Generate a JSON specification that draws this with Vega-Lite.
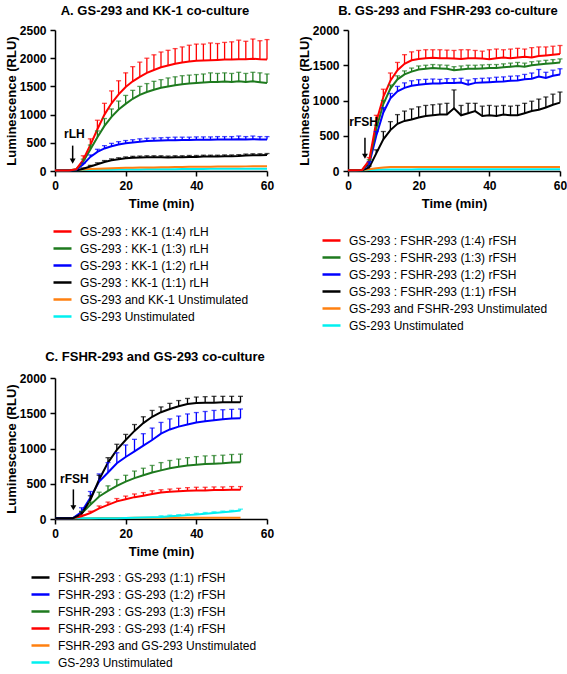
{
  "$schema": "https://vega.github.io/schema/vega-lite/v6.json",
  "padding": 5,
  "background": "white",
  "datasets": {
    "namesA": [
      {"k": "r", "name": "GS-293 : KK-1 (1:4) rLH"},
      {"k": "g", "name": "GS-293 : KK-1 (1:3) rLH"},
      {"k": "b", "name": "GS-293 : KK-1 (1:2) rLH"},
      {"k": "k", "name": "GS-293 : KK-1 (1:1) rLH"},
      {"k": "o", "name": "GS-293 and KK-1 Unstimulated"},
      {"k": "c", "name": "GS-293 Unstimulated"}
    ],
    "namesB": [
      {"k": "r", "name": "GS-293 : FSHR-293 (1:4) rFSH"},
      {"k": "g", "name": "GS-293 : FSHR-293 (1:3) rFSH"},
      {"k": "b", "name": "GS-293 : FSHR-293 (1:2) rFSH"},
      {"k": "k", "name": "GS-293 : FSHR-293 (1:1) rFSH"},
      {"k": "o", "name": "GS-293 and FSHR-293 Unstimulated"},
      {"k": "c", "name": "GS-293 Unstimulated"}
    ],
    "namesC": [
      {"k": "k", "name": "FSHR-293 : GS-293 (1:1) rFSH"},
      {"k": "b", "name": "FSHR-293 : GS-293 (1:2) rFSH"},
      {"k": "g", "name": "FSHR-293 : GS-293 (1:3) rFSH"},
      {"k": "r", "name": "FSHR-293 : GS-293 (1:4) rFSH"},
      {"k": "o", "name": "FSHR-293 and GS-293 Unstimulated"},
      {"k": "c", "name": "GS-293 Unstimulated"}
    ],
    "A": [
      {"k":"c","t":0,"y":10},{"k":"c","t":2,"y":10},{"k":"c","t":4,"y":12},{"k":"c","t":6,"y":14},{"k":"c","t":8,"y":16},{"k":"c","t":10,"y":18},{"k":"c","t":12,"y":20},{"k":"c","t":14,"y":22},{"k":"c","t":16,"y":24},{"k":"c","t":18,"y":25},{"k":"c","t":20,"y":26},{"k":"c","t":22,"y":27},{"k":"c","t":24,"y":28},{"k":"c","t":26,"y":29},{"k":"c","t":28,"y":30},{"k":"c","t":30,"y":31},{"k":"c","t":32,"y":32},{"k":"c","t":34,"y":33},{"k":"c","t":36,"y":34},{"k":"c","t":38,"y":35},{"k":"c","t":40,"y":36},{"k":"c","t":42,"y":37},{"k":"c","t":44,"y":38},{"k":"c","t":46,"y":38},{"k":"c","t":48,"y":39},{"k":"c","t":50,"y":39},{"k":"c","t":52,"y":40},{"k":"c","t":54,"y":40},{"k":"c","t":56,"y":41},{"k":"c","t":58,"y":41},{"k":"c","t":60,"y":42},
      {"k":"o","t":0,"y":15},{"k":"o","t":2,"y":15},{"k":"o","t":4,"y":18},{"k":"o","t":6,"y":22},{"k":"o","t":8,"y":28},{"k":"o","t":10,"y":34},{"k":"o","t":12,"y":40},{"k":"o","t":14,"y":45},{"k":"o","t":16,"y":50},{"k":"o","t":18,"y":53},{"k":"o","t":20,"y":56},{"k":"o","t":22,"y":58},{"k":"o","t":24,"y":60},{"k":"o","t":26,"y":62},{"k":"o","t":28,"y":64},{"k":"o","t":30,"y":66},{"k":"o","t":32,"y":68},{"k":"o","t":34,"y":70},{"k":"o","t":36,"y":72},{"k":"o","t":38,"y":74},{"k":"o","t":40,"y":75},{"k":"o","t":42,"y":76},{"k":"o","t":44,"y":77},{"k":"o","t":46,"y":78},{"k":"o","t":48,"y":79},{"k":"o","t":50,"y":80},{"k":"o","t":52,"y":81},{"k":"o","t":54,"y":82},{"k":"o","t":56,"y":83},{"k":"o","t":58,"y":84},{"k":"o","t":60,"y":85},
      {"k":"k","t":0,"y":10},{"k":"k","t":2,"y":10},{"k":"k","t":4,"y":10},{"k":"k","t":6,"y":10},{"k":"k","t":8,"y":40,"hi":55},{"k":"k","t":10,"y":80,"hi":100},{"k":"k","t":12,"y":120,"hi":145},{"k":"k","t":14,"y":160,"hi":185},{"k":"k","t":16,"y":190,"hi":215},{"k":"k","t":18,"y":210,"hi":235},{"k":"k","t":20,"y":225,"hi":250},{"k":"k","t":22,"y":235,"hi":260},{"k":"k","t":24,"y":240,"hi":265},{"k":"k","t":26,"y":245,"hi":270},{"k":"k","t":28,"y":245,"hi":270},{"k":"k","t":30,"y":245,"hi":270},{"k":"k","t":32,"y":240,"hi":265},{"k":"k","t":34,"y":245,"hi":270},{"k":"k","t":36,"y":245,"hi":270},{"k":"k","t":38,"y":250,"hi":275},{"k":"k","t":40,"y":250,"hi":275},{"k":"k","t":42,"y":255,"hi":280},{"k":"k","t":44,"y":255,"hi":280},{"k":"k","t":46,"y":255,"hi":280},{"k":"k","t":48,"y":260,"hi":285},{"k":"k","t":50,"y":260,"hi":285},{"k":"k","t":52,"y":265,"hi":290},{"k":"k","t":54,"y":275,"hi":300},{"k":"k","t":56,"y":280,"hi":305},{"k":"k","t":58,"y":280,"hi":305},{"k":"k","t":60,"y":285,"hi":310},
      {"k":"b","t":0,"y":10},{"k":"b","t":2,"y":10},{"k":"b","t":4,"y":10},{"k":"b","t":6,"y":20},{"k":"b","t":8,"y":120,"hi":140},{"k":"b","t":10,"y":250,"hi":285},{"k":"b","t":12,"y":340,"hi":385},{"k":"b","t":14,"y":400,"hi":450},{"k":"b","t":16,"y":440,"hi":490},{"k":"b","t":18,"y":470,"hi":520},{"k":"b","t":20,"y":490,"hi":540},{"k":"b","t":22,"y":505,"hi":555},{"k":"b","t":24,"y":520,"hi":570},{"k":"b","t":26,"y":530,"hi":580},{"k":"b","t":28,"y":535,"hi":585},{"k":"b","t":30,"y":540,"hi":590},{"k":"b","t":32,"y":545,"hi":595},{"k":"b","t":34,"y":545,"hi":600},{"k":"b","t":36,"y":550,"hi":600},{"k":"b","t":38,"y":550,"hi":600},{"k":"b","t":40,"y":555,"hi":605},{"k":"b","t":42,"y":555,"hi":605},{"k":"b","t":44,"y":555,"hi":605},{"k":"b","t":46,"y":560,"hi":610},{"k":"b","t":48,"y":560,"hi":610},{"k":"b","t":50,"y":560,"hi":610},{"k":"b","t":52,"y":565,"hi":620},{"k":"b","t":54,"y":560,"hi":610},{"k":"b","t":56,"y":565,"hi":620},{"k":"b","t":58,"y":560,"hi":610},{"k":"b","t":60,"y":560,"hi":610},
      {"k":"g","t":0,"y":10},{"k":"g","t":2,"y":10},{"k":"g","t":4,"y":10},{"k":"g","t":6,"y":30},{"k":"g","t":8,"y":170,"hi":210},{"k":"g","t":10,"y":380,"hi":460},{"k":"g","t":12,"y":600,"hi":710},{"k":"g","t":14,"y":800,"hi":930},{"k":"g","t":16,"y":960,"hi":1100},{"k":"g","t":18,"y":1090,"hi":1240},{"k":"g","t":20,"y":1190,"hi":1340},{"k":"g","t":22,"y":1280,"hi":1430},{"k":"g","t":24,"y":1350,"hi":1500},{"k":"g","t":26,"y":1400,"hi":1550},{"k":"g","t":28,"y":1440,"hi":1590},{"k":"g","t":30,"y":1475,"hi":1620},{"k":"g","t":32,"y":1500,"hi":1650},{"k":"g","t":34,"y":1520,"hi":1670},{"k":"g","t":36,"y":1540,"hi":1690},{"k":"g","t":38,"y":1550,"hi":1700},{"k":"g","t":40,"y":1560,"hi":1710},{"k":"g","t":42,"y":1570,"hi":1720},{"k":"g","t":44,"y":1580,"hi":1740},{"k":"g","t":46,"y":1580,"hi":1730},{"k":"g","t":48,"y":1585,"hi":1740},{"k":"g","t":50,"y":1580,"hi":1730},{"k":"g","t":52,"y":1590,"hi":1750},{"k":"g","t":54,"y":1580,"hi":1730},{"k":"g","t":56,"y":1590,"hi":1750},{"k":"g","t":58,"y":1575,"hi":1740},{"k":"g","t":60,"y":1560,"hi":1720},
      {"k":"r","t":0,"y":10},{"k":"r","t":2,"y":10},{"k":"r","t":4,"y":10},{"k":"r","t":6,"y":30},{"k":"r","t":8,"y":200,"hi":270},{"k":"r","t":10,"y":460,"hi":570},{"k":"r","t":12,"y":740,"hi":900},{"k":"r","t":14,"y":1000,"hi":1200},{"k":"r","t":16,"y":1200,"hi":1420},{"k":"r","t":18,"y":1360,"hi":1600},{"k":"r","t":20,"y":1490,"hi":1740},{"k":"r","t":22,"y":1590,"hi":1850},{"k":"r","t":24,"y":1670,"hi":1930},{"k":"r","t":26,"y":1740,"hi":2000},{"k":"r","t":28,"y":1790,"hi":2060},{"k":"r","t":30,"y":1840,"hi":2110},{"k":"r","t":32,"y":1870,"hi":2140},{"k":"r","t":34,"y":1900,"hi":2170},{"k":"r","t":36,"y":1925,"hi":2200},{"k":"r","t":38,"y":1940,"hi":2230},{"k":"r","t":40,"y":1955,"hi":2250},{"k":"r","t":42,"y":1960,"hi":2250},{"k":"r","t":44,"y":1965,"hi":2270},{"k":"r","t":46,"y":1970,"hi":2260},{"k":"r","t":48,"y":1975,"hi":2280},{"k":"r","t":50,"y":1975,"hi":2290},{"k":"r","t":52,"y":1980,"hi":2320},{"k":"r","t":54,"y":1980,"hi":2300},{"k":"r","t":56,"y":1990,"hi":2340},{"k":"r","t":58,"y":1980,"hi":2310},{"k":"r","t":60,"y":1975,"hi":2330}
    ],
    "B": [
      {"k":"c","t":0,"y":10},{"k":"c","t":2,"y":10},{"k":"c","t":4,"y":12},{"k":"c","t":6,"y":15},{"k":"c","t":8,"y":18},{"k":"c","t":10,"y":20},{"k":"c","t":12,"y":22},{"k":"c","t":14,"y":22},{"k":"c","t":16,"y":23},{"k":"c","t":18,"y":23},{"k":"c","t":20,"y":24},{"k":"c","t":22,"y":24},{"k":"c","t":24,"y":24},{"k":"c","t":26,"y":24},{"k":"c","t":28,"y":25},{"k":"c","t":30,"y":25},{"k":"c","t":32,"y":25},{"k":"c","t":34,"y":25},{"k":"c","t":36,"y":25},{"k":"c","t":38,"y":25},{"k":"c","t":40,"y":25},{"k":"c","t":42,"y":25},{"k":"c","t":44,"y":25},{"k":"c","t":46,"y":25},{"k":"c","t":48,"y":25},{"k":"c","t":50,"y":25},{"k":"c","t":52,"y":25},{"k":"c","t":54,"y":25},{"k":"c","t":56,"y":25},{"k":"c","t":58,"y":25},{"k":"c","t":60,"y":25},
      {"k":"o","t":0,"y":10},{"k":"o","t":2,"y":10},{"k":"o","t":4,"y":15},{"k":"o","t":6,"y":25},{"k":"o","t":8,"y":40},{"k":"o","t":10,"y":50},{"k":"o","t":12,"y":55},{"k":"o","t":14,"y":55},{"k":"o","t":16,"y":55},{"k":"o","t":18,"y":55},{"k":"o","t":20,"y":55},{"k":"o","t":22,"y":55},{"k":"o","t":24,"y":55},{"k":"o","t":26,"y":55},{"k":"o","t":28,"y":55},{"k":"o","t":30,"y":55},{"k":"o","t":32,"y":55},{"k":"o","t":34,"y":55},{"k":"o","t":36,"y":55},{"k":"o","t":38,"y":55},{"k":"o","t":40,"y":55},{"k":"o","t":42,"y":55},{"k":"o","t":44,"y":55},{"k":"o","t":46,"y":55},{"k":"o","t":48,"y":55},{"k":"o","t":50,"y":55},{"k":"o","t":52,"y":55},{"k":"o","t":54,"y":55},{"k":"o","t":56,"y":55},{"k":"o","t":58,"y":55},{"k":"o","t":60,"y":55},
      {"k":"k","t":0,"y":10},{"k":"k","t":2,"y":10},{"k":"k","t":4,"y":10},{"k":"k","t":6,"y":50,"hi":70},{"k":"k","t":8,"y":250,"hi":300},{"k":"k","t":10,"y":450,"hi":560},{"k":"k","t":12,"y":580,"hi":700},{"k":"k","t":14,"y":670,"hi":800},{"k":"k","t":16,"y":710,"hi":850},{"k":"k","t":18,"y":730,"hi":880},{"k":"k","t":20,"y":760,"hi":910},{"k":"k","t":22,"y":780,"hi":930},{"k":"k","t":24,"y":790,"hi":940},{"k":"k","t":26,"y":800,"hi":950},{"k":"k","t":28,"y":800,"hi":960},{"k":"k","t":30,"y":890,"hi":1150},{"k":"k","t":32,"y":790,"hi":930},{"k":"k","t":34,"y":820,"hi":960},{"k":"k","t":36,"y":850,"hi":960},{"k":"k","t":38,"y":780,"hi":920},{"k":"k","t":40,"y":790,"hi":930},{"k":"k","t":42,"y":780,"hi":920},{"k":"k","t":44,"y":800,"hi":930},{"k":"k","t":46,"y":790,"hi":920},{"k":"k","t":48,"y":790,"hi":930},{"k":"k","t":50,"y":820,"hi":960},{"k":"k","t":52,"y":850,"hi":990},{"k":"k","t":54,"y":870,"hi":1020},{"k":"k","t":56,"y":900,"hi":1050},{"k":"k","t":58,"y":940,"hi":1090},{"k":"k","t":60,"y":970,"hi":1120},
      {"k":"b","t":0,"y":10},{"k":"b","t":2,"y":10},{"k":"b","t":4,"y":15},{"k":"b","t":6,"y":100,"hi":130},{"k":"b","t":8,"y":500,"hi":560},{"k":"b","t":10,"y":830,"hi":900},{"k":"b","t":12,"y":1030,"hi":1100},{"k":"b","t":14,"y":1130,"hi":1200},{"k":"b","t":16,"y":1180,"hi":1250},{"k":"b","t":18,"y":1210,"hi":1280},{"k":"b","t":20,"y":1225,"hi":1295},{"k":"b","t":22,"y":1235,"hi":1300},{"k":"b","t":24,"y":1240,"hi":1305},{"k":"b","t":26,"y":1240,"hi":1300},{"k":"b","t":28,"y":1250,"hi":1310},{"k":"b","t":30,"y":1250,"hi":1310},{"k":"b","t":32,"y":1255,"hi":1315},{"k":"b","t":34,"y":1225,"hi":1290},{"k":"b","t":36,"y":1250,"hi":1310},{"k":"b","t":38,"y":1255,"hi":1315},{"k":"b","t":40,"y":1260,"hi":1320},{"k":"b","t":42,"y":1265,"hi":1330},{"k":"b","t":44,"y":1270,"hi":1335},{"k":"b","t":46,"y":1280,"hi":1345},{"k":"b","t":48,"y":1285,"hi":1350},{"k":"b","t":50,"y":1300,"hi":1370},{"k":"b","t":52,"y":1310,"hi":1390},{"k":"b","t":54,"y":1340,"hi":1440},{"k":"b","t":56,"y":1320,"hi":1400},{"k":"b","t":58,"y":1350,"hi":1430},{"k":"b","t":60,"y":1370,"hi":1450},
      {"k":"g","t":0,"y":10},{"k":"g","t":2,"y":10},{"k":"g","t":4,"y":15},{"k":"g","t":6,"y":130,"hi":160},{"k":"g","t":8,"y":600,"hi":650},{"k":"g","t":10,"y":950,"hi":1000},{"k":"g","t":12,"y":1170,"hi":1220},{"k":"g","t":14,"y":1300,"hi":1350},{"k":"g","t":16,"y":1370,"hi":1420},{"k":"g","t":18,"y":1410,"hi":1460},{"k":"g","t":20,"y":1440,"hi":1490},{"k":"g","t":22,"y":1450,"hi":1500},{"k":"g","t":24,"y":1460,"hi":1510},{"k":"g","t":26,"y":1455,"hi":1505},{"k":"g","t":28,"y":1450,"hi":1500},{"k":"g","t":30,"y":1430,"hi":1480},{"k":"g","t":32,"y":1440,"hi":1490},{"k":"g","t":34,"y":1450,"hi":1500},{"k":"g","t":36,"y":1450,"hi":1500},{"k":"g","t":38,"y":1455,"hi":1505},{"k":"g","t":40,"y":1460,"hi":1510},{"k":"g","t":42,"y":1460,"hi":1510},{"k":"g","t":44,"y":1470,"hi":1520},{"k":"g","t":46,"y":1480,"hi":1530},{"k":"g","t":48,"y":1490,"hi":1540},{"k":"g","t":50,"y":1480,"hi":1530},{"k":"g","t":52,"y":1500,"hi":1550},{"k":"g","t":54,"y":1510,"hi":1560},{"k":"g","t":56,"y":1520,"hi":1570},{"k":"g","t":58,"y":1530,"hi":1580},{"k":"g","t":60,"y":1540,"hi":1590},
      {"k":"r","t":0,"y":10},{"k":"r","t":2,"y":10},{"k":"r","t":4,"y":15},{"k":"r","t":6,"y":150,"hi":190},{"k":"r","t":8,"y":700,"hi":790},{"k":"r","t":10,"y":1050,"hi":1160},{"k":"r","t":12,"y":1280,"hi":1390},{"k":"r","t":14,"y":1430,"hi":1540},{"k":"r","t":16,"y":1520,"hi":1650},{"k":"r","t":18,"y":1570,"hi":1690},{"k":"r","t":20,"y":1590,"hi":1710},{"k":"r","t":22,"y":1600,"hi":1720},{"k":"r","t":24,"y":1605,"hi":1720},{"k":"r","t":26,"y":1600,"hi":1720},{"k":"r","t":28,"y":1600,"hi":1715},{"k":"r","t":30,"y":1595,"hi":1710},{"k":"r","t":32,"y":1590,"hi":1720},{"k":"r","t":34,"y":1600,"hi":1720},{"k":"r","t":36,"y":1600,"hi":1710},{"k":"r","t":38,"y":1595,"hi":1700},{"k":"r","t":40,"y":1585,"hi":1720},{"k":"r","t":42,"y":1600,"hi":1730},{"k":"r","t":44,"y":1610,"hi":1720},{"k":"r","t":46,"y":1600,"hi":1730},{"k":"r","t":48,"y":1610,"hi":1740},{"k":"r","t":50,"y":1620,"hi":1730},{"k":"r","t":52,"y":1610,"hi":1750},{"k":"r","t":54,"y":1630,"hi":1760},{"k":"r","t":56,"y":1640,"hi":1760},{"k":"r","t":58,"y":1650,"hi":1770},{"k":"r","t":60,"y":1660,"hi":1780}
    ],
    "C": [
      {"k":"o","t":0,"y":10},{"k":"o","t":2.5,"y":10},{"k":"o","t":5,"y":10},{"k":"o","t":7.5,"y":12},{"k":"o","t":10,"y":12},{"k":"o","t":12.5,"y":14},{"k":"o","t":15,"y":14},{"k":"o","t":17.5,"y":15},{"k":"o","t":20,"y":15},{"k":"o","t":22.5,"y":16},{"k":"o","t":25,"y":16},{"k":"o","t":27.5,"y":16},{"k":"o","t":30,"y":17},{"k":"o","t":32.5,"y":17},{"k":"o","t":35,"y":17},{"k":"o","t":37.5,"y":18},{"k":"o","t":40,"y":18},{"k":"o","t":42.5,"y":18},{"k":"o","t":45,"y":18},{"k":"o","t":47.5,"y":18},{"k":"o","t":50,"y":19},{"k":"o","t":52.5,"y":19},
      {"k":"c","t":0,"y":10},{"k":"c","t":2.5,"y":10},{"k":"c","t":5,"y":10},{"k":"c","t":7.5,"y":10},{"k":"c","t":10,"y":10},{"k":"c","t":12.5,"y":10},{"k":"c","t":15,"y":10},{"k":"c","t":17.5,"y":12},{"k":"c","t":20,"y":14},{"k":"c","t":22.5,"y":16},{"k":"c","t":25,"y":20},{"k":"c","t":27.5,"y":25},{"k":"c","t":30,"y":30,"hi":45},{"k":"c","t":32.5,"y":38,"hi":55},{"k":"c","t":35,"y":45,"hi":62},{"k":"c","t":37.5,"y":55,"hi":72},{"k":"c","t":40,"y":65,"hi":82},{"k":"c","t":42.5,"y":75,"hi":92},{"k":"c","t":45,"y":85,"hi":102},{"k":"c","t":47.5,"y":95,"hi":112},{"k":"c","t":50,"y":105,"hi":122},{"k":"c","t":52.5,"y":120,"hi":140},
      {"k":"r","t":0,"y":10},{"k":"r","t":2.5,"y":10},{"k":"r","t":5,"y":10},{"k":"r","t":7.5,"y":40,"hi":55},{"k":"r","t":10,"y":85,"hi":110},{"k":"r","t":12.5,"y":150,"hi":185},{"k":"r","t":15,"y":200,"hi":240},{"k":"r","t":17.5,"y":250,"hi":290},{"k":"r","t":20,"y":280,"hi":325},{"k":"r","t":22.5,"y":310,"hi":355},{"k":"r","t":25,"y":330,"hi":375},{"k":"r","t":27.5,"y":355,"hi":400},{"k":"r","t":30,"y":375,"hi":415},{"k":"r","t":32.5,"y":385,"hi":425},{"k":"r","t":35,"y":395,"hi":435},{"k":"r","t":37.5,"y":400,"hi":445},{"k":"r","t":40,"y":405,"hi":450},{"k":"r","t":42.5,"y":405,"hi":450},{"k":"r","t":45,"y":410,"hi":455},{"k":"r","t":47.5,"y":410,"hi":455},{"k":"r","t":50,"y":415,"hi":460},{"k":"r","t":52.5,"y":415,"hi":460},
      {"k":"g","t":0,"y":10},{"k":"g","t":2.5,"y":10},{"k":"g","t":5,"y":10},{"k":"g","t":7.5,"y":80,"hi":110},{"k":"g","t":10,"y":200,"hi":240},{"k":"g","t":12.5,"y":320,"hi":380},{"k":"g","t":15,"y":400,"hi":470},{"k":"g","t":17.5,"y":470,"hi":560},{"k":"g","t":20,"y":530,"hi":620},{"k":"g","t":22.5,"y":580,"hi":680},{"k":"g","t":25,"y":620,"hi":720},{"k":"g","t":27.5,"y":660,"hi":760},{"k":"g","t":30,"y":690,"hi":800},{"k":"g","t":32.5,"y":720,"hi":830},{"k":"g","t":35,"y":740,"hi":850},{"k":"g","t":37.5,"y":760,"hi":870},{"k":"g","t":40,"y":770,"hi":885},{"k":"g","t":42.5,"y":780,"hi":895},{"k":"g","t":45,"y":785,"hi":900},{"k":"g","t":47.5,"y":790,"hi":905},{"k":"g","t":50,"y":800,"hi":915},{"k":"g","t":52.5,"y":805,"hi":920},
      {"k":"b","t":0,"y":10},{"k":"b","t":2.5,"y":10},{"k":"b","t":5,"y":10},{"k":"b","t":7.5,"y":100,"hi":160},{"k":"b","t":10,"y":300,"hi":390},{"k":"b","t":12.5,"y":530,"hi":640},{"k":"b","t":15,"y":660,"hi":800},{"k":"b","t":17.5,"y":790,"hi":940},{"k":"b","t":20,"y":880,"hi":1050},{"k":"b","t":22.5,"y":960,"hi":1130},{"k":"b","t":25,"y":1040,"hi":1210},{"k":"b","t":27.5,"y":1120,"hi":1290},{"k":"b","t":30,"y":1210,"hi":1370},{"k":"b","t":32.5,"y":1270,"hi":1420},{"k":"b","t":35,"y":1310,"hi":1460},{"k":"b","t":37.5,"y":1340,"hi":1490},{"k":"b","t":40,"y":1370,"hi":1510},{"k":"b","t":42.5,"y":1385,"hi":1525},{"k":"b","t":45,"y":1400,"hi":1540},{"k":"b","t":47.5,"y":1415,"hi":1550},{"k":"b","t":50,"y":1425,"hi":1555},{"k":"b","t":52.5,"y":1430,"hi":1560},
      {"k":"k","t":0,"y":10},{"k":"k","t":2.5,"y":10},{"k":"k","t":5,"y":10},{"k":"k","t":7.5,"y":70,"hi":100},{"k":"k","t":10,"y":270,"hi":330},{"k":"k","t":12.5,"y":560,"hi":620},{"k":"k","t":15,"y":800,"hi":870},{"k":"k","t":17.5,"y":980,"hi":1060},{"k":"k","t":20,"y":1120,"hi":1200},{"k":"k","t":22.5,"y":1250,"hi":1340},{"k":"k","t":25,"y":1360,"hi":1450},{"k":"k","t":27.5,"y":1450,"hi":1540},{"k":"k","t":30,"y":1515,"hi":1590},{"k":"k","t":32.5,"y":1560,"hi":1640},{"k":"k","t":35,"y":1600,"hi":1680},{"k":"k","t":37.5,"y":1630,"hi":1710},{"k":"k","t":40,"y":1645,"hi":1730},{"k":"k","t":42.5,"y":1650,"hi":1735},{"k":"k","t":45,"y":1650,"hi":1740},{"k":"k","t":47.5,"y":1655,"hi":1740},{"k":"k","t":50,"y":1655,"hi":1740},{"k":"k","t":52.5,"y":1655,"hi":1740}
    ]
  },
  "vconcat": [
    {
      "hconcat": [
        {
          "title": {"text": "A. GS-293 and KK-1 co-culture"},
          "width": 212,
          "height": 141,
          "layer": [
            {
              "data": {"name": "A"},
              "transform": [{"lookup": "k", "from": {"data": {"name": "namesA"}, "key": "k", "fields": ["name"]}}],
              "layer": [
                {
                  "mark": {"type": "line", "strokeWidth": 2},
                  "encoding": {
                    "x": {"field": "t", "type": "quantitative", "title": "Time (min)", "scale": {"domain": [0, 60], "nice": false}, "axis": {"values": [0, 20, 40, 60]}},
                    "y": {"field": "y", "type": "quantitative", "title": "Luminescence (RLU)", "scale": {"domain": [0, 2500], "nice": false}, "axis": {"values": [0, 500, 1000, 1500, 2000, 2500]}},
                    "color": {
                      "field": "name", "type": "nominal",
                      "scale": {
                        "domain": ["GS-293 : KK-1 (1:4) rLH", "GS-293 : KK-1 (1:3) rLH", "GS-293 : KK-1 (1:2) rLH", "GS-293 : KK-1 (1:1) rLH", "GS-293 and KK-1 Unstimulated", "GS-293 Unstimulated"],
                        "range": ["#ff0000", "#1e7a1e", "#0000ff", "#000000", "#ff8010", "#00f0f0"]
                      },
                      "legend": {"title": null, "orient": "none", "legendX": -3, "legendY": 191, "rowPadding": -0.6}
                    }
                  }
                },
                {
                  "transform": [{"filter": "isValid(datum.hi)"}],
                  "mark": {"type": "rule", "strokeWidth": 1.3},
                  "encoding": {
                    "x": {"field": "t", "type": "quantitative", "axis": {"values": [0, 20, 40, 60]}},
                    "y": {"field": "y", "type": "quantitative", "axis": {"values": [0, 500, 1000, 1500, 2000, 2500]}},
                    "y2": {"field": "hi"},
                    "color": {"field": "name", "type": "nominal"}
                  }
                },
                {
                  "transform": [{"filter": "isValid(datum.hi)"}],
                  "mark": {"type": "tick", "orient": "horizontal", "size": 5, "thickness": 1.3},
                  "encoding": {
                    "x": {"field": "t", "type": "quantitative", "axis": {"values": [0, 20, 40, 60]}},
                    "y": {"field": "hi", "type": "quantitative", "axis": {"values": [0, 500, 1000, 1500, 2000, 2500]}},
                    "color": {"field": "name", "type": "nominal"}
                  }
                }
              ]
            },
            {
              "data": {"values": [{"t": 5, "y0": 450, "y1": 175, "tx": 5.5, "ty": 660, "label": "rLH"}]},
              "layer": [
                {"mark": {"type": "rule", "strokeWidth": 1.5, "color": "black"}, "encoding": {"x": {"field": "t", "type": "quantitative", "axis": {"values": [0, 20, 40, 60]}}, "y": {"field": "y0", "type": "quantitative", "axis": {"values": [0, 500, 1000, 1500, 2000, 2500]}}, "y2": {"field": "y1"}}},
                {"mark": {"type": "point", "shape": "triangle-down", "filled": true, "size": 35, "color": "black", "opacity": 1}, "encoding": {"x": {"field": "t", "type": "quantitative", "axis": {"values": [0, 20, 40, 60]}}, "y": {"field": "y1", "type": "quantitative", "axis": {"values": [0, 500, 1000, 1500, 2000, 2500]}}}},
                {"mark": {"type": "text", "fontWeight": "bold", "fontSize": 12, "color": "black", "baseline": "middle"}, "encoding": {"x": {"field": "tx", "type": "quantitative", "axis": {"values": [0, 20, 40, 60]}}, "y": {"field": "ty", "type": "quantitative", "axis": {"values": [0, 500, 1000, 1500, 2000, 2500]}}, "text": {"field": "label"}}}
              ]
            }
          ]
        },
        {
          "title": {"text": "B. GS-293 and FSHR-293 co-culture"},
          "width": 212,
          "height": 141,
          "layer": [
            {
              "data": {"name": "B"},
              "transform": [{"lookup": "k", "from": {"data": {"name": "namesB"}, "key": "k", "fields": ["name"]}}],
              "layer": [
                {
                  "mark": {"type": "line", "strokeWidth": 2},
                  "encoding": {
                    "x": {"field": "t", "type": "quantitative", "title": "Time (min)", "scale": {"domain": [0, 60], "nice": false}, "axis": {"values": [0, 20, 40, 60]}},
                    "y": {"field": "y", "type": "quantitative", "title": "Luminescence (RLU)", "scale": {"domain": [0, 2000], "nice": false}, "axis": {"values": [0, 500, 1000, 1500, 2000]}},
                    "color": {
                      "field": "name", "type": "nominal",
                      "scale": {
                        "domain": ["GS-293 : FSHR-293 (1:4) rFSH", "GS-293 : FSHR-293 (1:3) rFSH", "GS-293 : FSHR-293 (1:2) rFSH", "GS-293 : FSHR-293 (1:1) rFSH", "GS-293 and FSHR-293 Unstimulated", "GS-293 Unstimulated"],
                        "range": ["#ff0000", "#1e7a1e", "#0000ff", "#000000", "#ff8010", "#00f0f0"]
                      },
                      "legend": {"title": null, "orient": "none", "legendX": -27, "legendY": 200}
                    }
                  }
                },
                {
                  "transform": [{"filter": "isValid(datum.hi)"}],
                  "mark": {"type": "rule", "strokeWidth": 1.3},
                  "encoding": {
                    "x": {"field": "t", "type": "quantitative", "axis": {"values": [0, 20, 40, 60]}},
                    "y": {"field": "y", "type": "quantitative", "axis": {"values": [0, 500, 1000, 1500, 2000]}},
                    "y2": {"field": "hi"},
                    "color": {"field": "name", "type": "nominal"}
                  }
                },
                {
                  "transform": [{"filter": "isValid(datum.hi)"}],
                  "mark": {"type": "tick", "orient": "horizontal", "size": 5, "thickness": 1.3},
                  "encoding": {
                    "x": {"field": "t", "type": "quantitative", "axis": {"values": [0, 20, 40, 60]}},
                    "y": {"field": "hi", "type": "quantitative", "axis": {"values": [0, 500, 1000, 1500, 2000]}},
                    "color": {"field": "name", "type": "nominal"}
                  }
                }
              ]
            },
            {
              "data": {"values": [{"t": 4.8, "y0": 470, "y1": 210, "tx": 4.4, "ty": 700, "label": "rFSH"}]},
              "layer": [
                {"mark": {"type": "rule", "strokeWidth": 1.5, "color": "black"}, "encoding": {"x": {"field": "t", "type": "quantitative", "axis": {"values": [0, 20, 40, 60]}}, "y": {"field": "y0", "type": "quantitative", "axis": {"values": [0, 500, 1000, 1500, 2000]}}, "y2": {"field": "y1"}}},
                {"mark": {"type": "point", "shape": "triangle-down", "filled": true, "size": 35, "color": "black", "opacity": 1}, "encoding": {"x": {"field": "t", "type": "quantitative", "axis": {"values": [0, 20, 40, 60]}}, "y": {"field": "y1", "type": "quantitative", "axis": {"values": [0, 500, 1000, 1500, 2000]}}}},
                {"mark": {"type": "text", "fontWeight": "bold", "fontSize": 12, "color": "black", "baseline": "middle"}, "encoding": {"x": {"field": "tx", "type": "quantitative", "axis": {"values": [0, 20, 40, 60]}}, "y": {"field": "ty", "type": "quantitative", "axis": {"values": [0, 500, 1000, 1500, 2000]}}, "text": {"field": "label"}}}
              ]
            }
          ]
        }
      ],
      "spacing": 24,
      "resolve": {"scale": {"color": "independent"}, "legend": {"color": "independent"}}
    },
    {
      "title": {"text": "C. FSHR-293 and GS-293 co-culture", "offset": 8},
      "width": 212,
      "height": 141,
      "layer": [
        {
          "data": {"name": "C"},
          "transform": [{"lookup": "k", "from": {"data": {"name": "namesC"}, "key": "k", "fields": ["name"]}}],
          "layer": [
            {
              "mark": {"type": "line", "strokeWidth": 2},
              "encoding": {
                "x": {"field": "t", "type": "quantitative", "title": "Time (min)", "scale": {"domain": [0, 60], "nice": false}, "axis": {"values": [0, 20, 40, 60]}},
                "y": {"field": "y", "type": "quantitative", "title": "Luminescence (RLU)", "scale": {"domain": [0, 2000], "nice": false}, "axis": {"values": [0, 500, 1000, 1500, 2000]}},
                "color": {
                  "field": "name", "type": "nominal",
                  "scale": {
                    "domain": ["FSHR-293 : GS-293 (1:1) rFSH", "FSHR-293 : GS-293 (1:2) rFSH", "FSHR-293 : GS-293 (1:3) rFSH", "FSHR-293 : GS-293 (1:4) rFSH", "FSHR-293 and GS-293 Unstimulated", "GS-293 Unstimulated"],
                    "range": ["#000000", "#0000ff", "#1e7a1e", "#ff0000", "#ff8010", "#00f0f0"]
                  },
                  "legend": {"title": null, "orient": "none", "legendX": -25, "legendY": 189}
                }
              }
            },
            {
              "transform": [{"filter": "isValid(datum.hi)"}],
              "mark": {"type": "rule", "strokeWidth": 1.3},
              "encoding": {
                "x": {"field": "t", "type": "quantitative", "axis": {"values": [0, 20, 40, 60]}},
                "y": {"field": "y", "type": "quantitative", "axis": {"values": [0, 500, 1000, 1500, 2000]}},
                "y2": {"field": "hi"},
                "color": {"field": "name", "type": "nominal"}
              }
            },
            {
              "transform": [{"filter": "isValid(datum.hi)"}],
              "mark": {"type": "tick", "orient": "horizontal", "size": 5, "thickness": 1.3},
              "encoding": {
                "x": {"field": "t", "type": "quantitative", "axis": {"values": [0, 20, 40, 60]}},
                "y": {"field": "hi", "type": "quantitative", "axis": {"values": [0, 500, 1000, 1500, 2000]}},
                "color": {"field": "name", "type": "nominal"}
              }
            }
          ]
        },
        {
          "data": {"values": [{"t": 5.2, "y0": 420, "y1": 160, "tx": 5.5, "ty": 570, "label": "rFSH"}]},
          "layer": [
            {"mark": {"type": "rule", "strokeWidth": 1.5, "color": "black"}, "encoding": {"x": {"field": "t", "type": "quantitative", "axis": {"values": [0, 20, 40, 60]}}, "y": {"field": "y0", "type": "quantitative", "axis": {"values": [0, 500, 1000, 1500, 2000]}}, "y2": {"field": "y1"}}},
            {"mark": {"type": "point", "shape": "triangle-down", "filled": true, "size": 35, "color": "black", "opacity": 1}, "encoding": {"x": {"field": "t", "type": "quantitative", "axis": {"values": [0, 20, 40, 60]}}, "y": {"field": "y1", "type": "quantitative", "axis": {"values": [0, 500, 1000, 1500, 2000]}}}},
            {"mark": {"type": "text", "fontWeight": "bold", "fontSize": 12, "color": "black", "baseline": "middle"}, "encoding": {"x": {"field": "tx", "type": "quantitative", "axis": {"values": [0, 20, 40, 60]}}, "y": {"field": "ty", "type": "quantitative", "axis": {"values": [0, 500, 1000, 1500, 2000]}}, "text": {"field": "label"}}}
          ]
        }
      ]
    }
  ],
  "spacing": 19,
  "resolve": {"scale": {"color": "independent"}, "legend": {"color": "independent"}},
  "config": {
    "font": "Liberation Sans",
    "view": {"stroke": null},
    "axis": {
      "grid": false,
      "domainColor": "black",
      "domainWidth": 1.5,
      "tickColor": "black",
      "tickWidth": 1.5,
      "tickSize": 5,
      "format": "d",
      "labelFont": "Liberation Sans",
      "labelFontSize": 12,
      "labelFontWeight": "bold",
      "labelColor": "black",
      "labelFlush": false,
      "labelOverlap": false,
      "titleFont": "Liberation Sans",
      "titleFontSize": 13,
      "titleFontWeight": "bold",
      "titleColor": "black"
    },
    "axisX": {"labelPadding": 4, "titlePadding": 6, "tickCount": 4},
    "axisY": {"labelPadding": 4, "titlePadding": 1, "tickCount": 6},
    "title": {"font": "Liberation Sans", "fontSize": 13, "fontWeight": "bold", "color": "black", "anchor": "middle", "frame": "group", "dx": -6, "offset": 6},
    "legend": {
      "symbolType": "stroke",
      "symbolSize": 324,
      "symbolStrokeWidth": 2.5,
      "symbolOpacity": 1,
      "labelFont": "Liberation Sans",
      "labelFontSize": 12,
      "labelColor": "black",
      "labelLimit": 400,
      "labelOffset": 7,
      "rowPadding": 0,
      "padding": 0
    }
  }
}
